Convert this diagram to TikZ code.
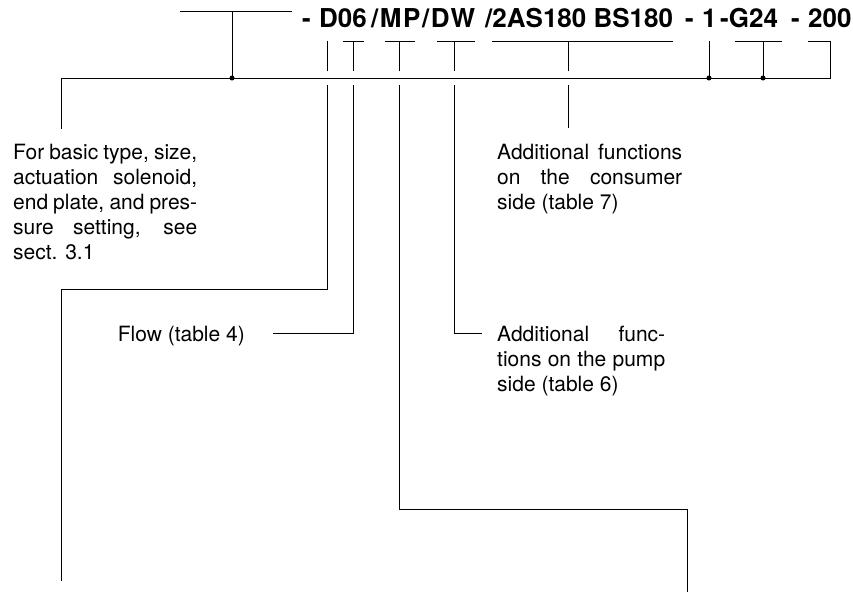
\documentclass[tikz,border=0pt]{standalone}
\usepackage{fontspec}
\setmainfont{TeX Gyre Heros}
\newcommand\bodyfnt{\fontsize{21}{25}\selectfont}
\newcommand\headfnt{\bfseries\fontsize{26}{29}\selectfont}
\tikzset{
  ln/.style={line width=1pt, line cap=butt, line join=miter},
  body/.style={inner sep=0pt, font=\bodyfnt, anchor=base west},
  head/.style={inner sep=0pt, font=\headfnt, anchor=base west},
  jdot/.style={circle, fill=black, inner sep=0pt, minimum size=5pt}
}
\begin{document}
\begin{tikzpicture}[x=1pt, y=-1pt]
\useasboundingbox (0,0) rectangle (853,592);
% ---------- title tokens ----------
\node[head] (t1) at (302,27) {-};
\node[head] (t2) at (319,27) {D06};
\node[head] (t3) at (371,27) {\addfontfeature{LetterSpace=6}/MP/DW};
\node[head] (t5) at (485,27) {/2AS180 BS180};
\node[head] (t6) at (685,27) {-};
\node[head] (t7) at (702,27) {1};
\node[head] (t8) at (720,27) {-G24};
\node[head] (t9) at (791,27) {-};
\node[head] (t10) at (808,27) {200};
% ---------- coordinates ----------
\coordinate (topL) at (180,11);
\coordinate (topR) at (292,11);
\coordinate (topM) at (232,11);
\coordinate (j0) at (232,78);
\coordinate (mL) at (61,78);
\coordinate (mR) at (830,78);
\coordinate (lvB) at (61,129);
% ticks above main line
\coordinate (a1) at (327,41); \coordinate (b1) at (327,71);
\coordinate (a2) at (353,41); \coordinate (b2) at (353,71);
\coordinate (a3) at (399,41); \coordinate (b3) at (399,71);
\coordinate (a4) at (454,41); \coordinate (b4) at (454,71);
\coordinate (a5) at (568,41); \coordinate (b5) at (568,71);
\coordinate (a6) at (709,41); \coordinate (j6) at (709,78);
\coordinate (a7) at (763,41); \coordinate (j7) at (763,78);
\coordinate (a8) at (830,41);
% below main line
\coordinate (c1) at (327,85); \coordinate (d1) at (327,289);
\coordinate (e1) at (61,289); \coordinate (f1) at (61,581);
\coordinate (c2) at (353,85); \coordinate (d2) at (353,333);
\coordinate (e2) at (273,333);
\coordinate (c3) at (399,85); \coordinate (d3) at (399,509);
\coordinate (e3) at (687,509); \coordinate (f3) at (687,592);
\coordinate (c4) at (454,85); \coordinate (d4) at (454,333);
\coordinate (e4) at (482,333);
\coordinate (c5) at (568,85); \coordinate (d5) at (568,128);
% ---------- lines ----------
\draw[ln] (topL) -- (topR);
\draw[ln] (topM) -- (j0);
\draw[ln] (lvB) -- (mL) -- (mR) -- (a8) -- ++(-22,0);
\draw[ln] (a1) -- (b1);
\draw[ln] (a2) -- (b2); \draw[ln] ([xshift=-10pt]a2) -- ([xshift=11pt]a2);
\draw[ln] (a3) -- (b3); \draw[ln] ([xshift=-14pt]a3) -- ([xshift=16pt]a3);
\draw[ln] (a4) -- (b4); \draw[ln] ([xshift=-17pt]a4) -- ([xshift=21pt]a4);
\draw[ln] (a5) -- (b5); \draw[ln] ([xshift=-76pt]a5) -- ([xshift=105pt]a5);
\draw[ln] (a6) -- (j6);
\draw[ln] (a7) -- (j7); \draw[ln] ([xshift=-28pt]a7) -- ([xshift=19pt]a7);
\draw[ln] (c1) -- (d1) -- (e1) -- (f1);
\draw[ln] (c2) -- (d2) -- (e2);
\draw[ln] (c3) -- (d3) -- (e3) -- (f3);
\draw[ln] (c4) -- (d4) -- (e4);
\draw[ln] (c5) -- (d5);
\node[jdot] (dot0) at (j0) {};
\node[jdot] (dot6) at (j6) {};
\node[jdot] (dot7) at (j7) {};
% ---------- texts ----------
\node[body] (L1) at (13,159) {\makebox[184pt][s]{For basic type, size,}};
\node[body] (L2) at (13,184) {\makebox[184pt][s]{actuation solenoid,}};
\node[body] (L3) at (13,209) {\makebox[184pt][s]{end plate, and pres-}};
\node[body] (L4) at (13,234) {\makebox[184pt][s]{sure setting, see}};
\node[body] (L5) at (13,259) {sect. 3.1};
\node[body] (C1) at (497,159) {\makebox[185pt][s]{Additional functions}};
\node[body] (C2) at (497,184) {\makebox[185pt][s]{on the consumer}};
\node[body] (C3) at (497,209) {side (table 7)};
\node[body, anchor=base east] (F1) at (245,341) {Flow (table 4)};
\node[body] (P1) at (497,341) {\makebox[168pt][s]{Additional func-}};
\node[body] (P2) at (497,366) {\makebox[168pt][s]{tions on the pump}};
\node[body] (P3) at (497,391) {side (table 6)};
\end{tikzpicture}
\end{document}
